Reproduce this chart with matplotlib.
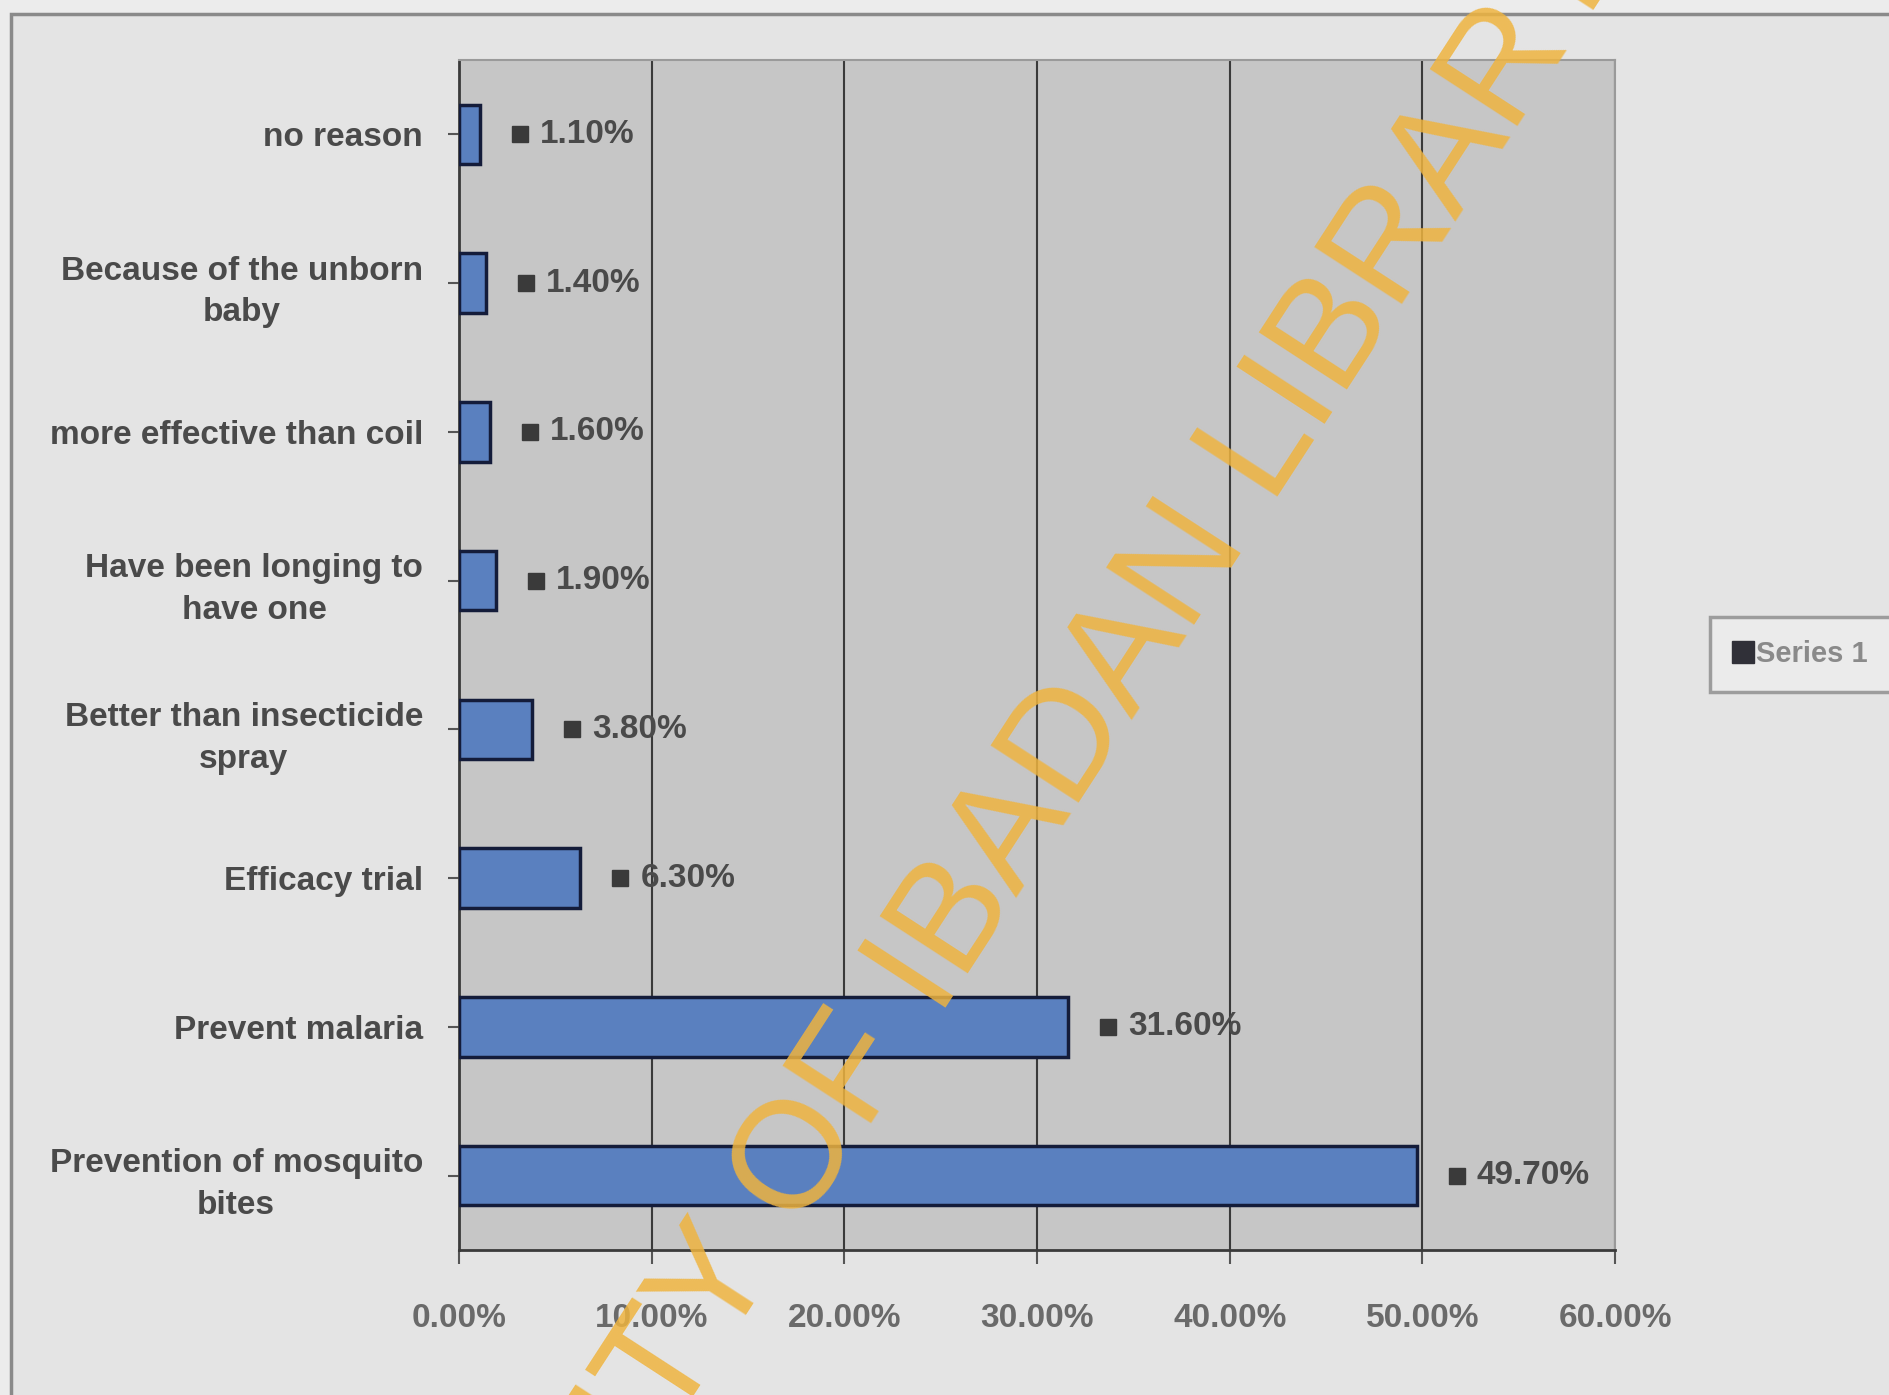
import matplotlib.pyplot as plt
from matplotlib.patches import Rectangle
from matplotlib.transforms import offset_copy

categories = ["no reason", "Because of the unborn\nbaby", "more effective than coil",
              "Have been longing to\nhave one", "Better than insecticide\nspray",
              "Efficacy trial", "Prevent malaria", "Prevention of mosquito\nbites"]
values = [1.10, 1.40, 1.60, 1.90, 3.80, 6.30, 31.60, 49.70]
xticks = [0, 10, 20, 30, 40, 50, 60]

font = ["Liberation Sans", "DejaVu Sans"]

fig = plt.figure(figsize=(18.89, 13.95), dpi=100)
fig.patch.set_facecolor("#ececec")

# outer chart frame
fig.patches.append(Rectangle((0.006, -0.01), 1.2, 1.0, transform=fig.transFigure,
                             facecolor="#e4e4e4", edgecolor="#8a8a8a", lw=2.5, zorder=-5))

ax = fig.add_axes([0.243, 0.104, 0.612, 0.853])
ax.set_facecolor("#c6c6c6")

y = list(range(len(categories)))
ax.barh(y, values, height=0.4, color="#5a80bf", edgecolor="#141c3a", linewidth=2.5, zorder=3)

ax.set_xlim(0, 60)
ax.set_ylim(len(categories) - 0.5, -0.5)
ax.set_xticks(xticks)
ax.set_xticklabels([f"{t:.2f}%" for t in xticks], fontsize=24, fontweight="bold",
                   color="#6a6a6a", family=font)
ax.set_yticks(y)
ax.set_yticklabels(categories, fontsize=24, fontweight="bold", color="#4a4a4a",
                   family=font, linespacing=1.45)
for lab in ax.get_yticklabels():
    lab.set_multialignment("center")
ax.tick_params(axis="y", pad=18, length=8, width=1.5, color="#555555")
ax.tick_params(axis="x", pad=28, length=10, width=1.5, color="#555555")
ax.grid(axis="x", color="#3a3a3a", lw=1.5, zorder=1)

for s in ["top", "right"]:
    ax.spines[s].set_color("#9a9a9a")
    ax.spines[s].set_linewidth(1.5)
for s in ["left", "bottom"]:
    ax.spines[s].set_color("#3a3a3a")
    ax.spines[s].set_linewidth(2)

# value labels with a small legend key in front
mark_tr = offset_copy(ax.transData, fig=fig, x=40, y=0, units="dots")
text_tr = offset_copy(ax.transData, fig=fig, x=60, y=0, units="dots")
for yi, v in zip(y, values):
    ax.plot(v, yi, "s", ms=11, mfc="#3a3a3a", mec="#3a3a3a", transform=mark_tr,
            clip_on=False, zorder=4)
    ax.text(v, yi, f"{v:.2f}%", transform=text_tr, va="center", ha="left",
            fontsize=24, fontweight="bold", color="#4a4a4a", family=font, zorder=4)

leg = fig.legend([plt.Line2D([], [], ls="", marker="s", ms=16, color="#303038")], ["Series 1"],
                 loc="center left", bbox_to_anchor=(0.902, 0.531), frameon=True,
                 prop={"family": font, "size": 21, "weight": "bold"},
                 handletextpad=0.1, borderpad=0.5, handlelength=0.7)
leg.get_frame().set_edgecolor("#8a8a8a")
leg.get_frame().set_linewidth(2.5)
leg.get_frame().set_facecolor("#eeeeee")
leg.get_frame().set_boxstyle("square")
for t in leg.get_texts():
    t.set_color("#8a8a8a")

# library watermark
fig.text(0.487, 0.300, "UNIVERSITY OF IBADAN LIBRARY", rotation=57, rotation_mode="anchor",
         ha="center", va="center", fontsize=110, color="#efb43f", alpha=0.85,
         family=font, zorder=10)

fig.savefig("out.png", dpi=100, facecolor=fig.get_facecolor())
